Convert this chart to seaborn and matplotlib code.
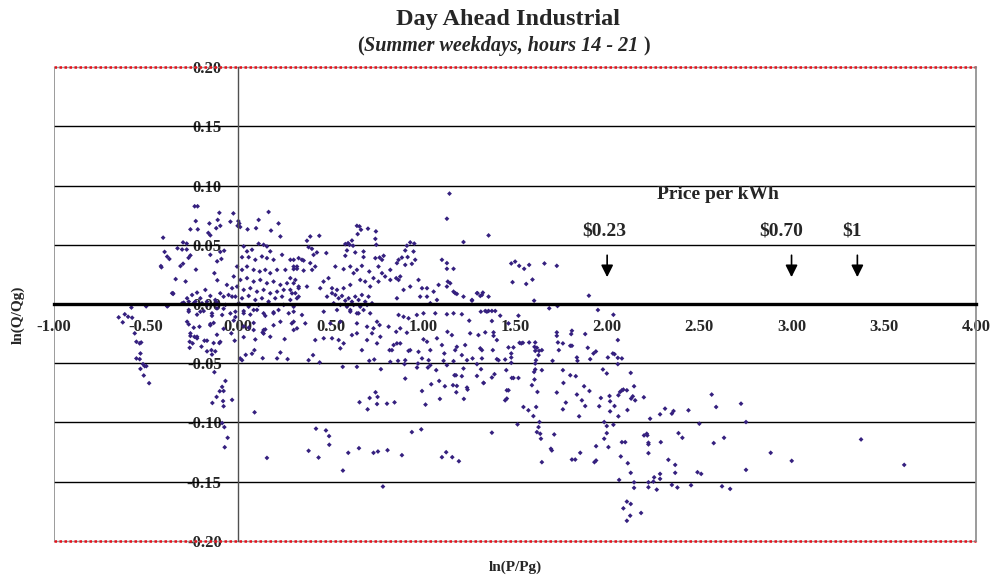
import pandas as pd
import seaborn as sns
import matplotlib.pyplot as plt

# (ln(P/Pg), ln(Q/Qg)) pairs, grouped by region
upper_left = [
    (-0.237, 0.0825), (-0.221, 0.0825), (-0.103, 0.077), (-0.027, 0.0765), (0.164, 0.0777),
    (-0.231, 0.070), (-0.112, 0.071), (-0.043, 0.0695), (0.000, 0.070), (0.005, 0.068),
    (-0.004, 0.066), (0.010, 0.065), (0.110, 0.071), (0.218, 0.068), (-0.157, 0.068),
    (-0.260, 0.063), (-0.220, 0.063), (-0.120, 0.064), (-0.098, 0.066), (0.050, 0.063),
    (0.096, 0.064), (0.177, 0.062), (0.228, 0.057), (-0.408, 0.056), (-0.163, 0.060),
    (-0.152, 0.058), (-0.300, 0.052), (-0.280, 0.051), (-0.330, 0.047), (-0.305, 0.046),
    (-0.280, 0.046), (-0.077, 0.045), (-0.098, 0.044), (-0.400, 0.044), (-0.386, 0.040),
    (-0.374, 0.038), (-0.260, 0.041), (-0.270, 0.039), (-0.152, 0.0415), (-0.115, 0.036),
    (-0.092, 0.038), (-0.420, 0.032), (-0.417, 0.031), (-0.314, 0.032), (-0.300, 0.034),
    (-0.230, 0.029), (-0.130, 0.026), (-0.340, 0.021), (-0.286, 0.019), (-0.114, 0.020),
    (-0.354, 0.009), (-0.580, -0.003), (-0.500, -0.002), (-0.386, -0.002),
]

near_zero_right = [
    (0.029, 0.0486), (0.047, 0.0444), (0.074, 0.0458), (0.110, 0.0509), (0.137, 0.0500),
    (0.155, 0.0486), (0.173, 0.0444), (0.020, 0.0395), (0.056, 0.0395), (0.092, 0.0373),
    (0.128, 0.0401), (0.155, 0.0387), (0.191, 0.0373), (0.237, 0.0415), (0.300, 0.0373),
    (0.318, 0.0316), (-0.007, 0.0316), (0.020, 0.0288), (0.047, 0.0316), (0.083, 0.0288),
    (0.116, 0.0274), (0.146, 0.0288), (0.173, 0.0260), (0.210, 0.0288), (0.255, 0.0288),
    (0.300, 0.0294), (-0.025, 0.0232), (0.011, 0.0203), (0.047, 0.0218), (0.083, 0.0189),
    (0.119, 0.0203), (0.155, 0.0175), (0.191, 0.0189), (0.228, 0.0161), (0.264, 0.0175),
    (0.309, 0.0203), (-0.062, 0.0161), (-0.034, 0.0133), (-0.007, 0.0147), (0.029, 0.0119),
    (0.065, 0.0133), (0.101, 0.0104), (0.137, 0.0119), (0.173, 0.0090), (0.210, 0.0104),
    (0.246, 0.0119), (0.291, 0.0090), (0.327, 0.0133), (-0.053, 0.0076), (-0.016, 0.0062),
    (0.020, 0.0048), (0.056, 0.0068), (0.092, 0.0034), (0.128, 0.0048), (0.164, 0.0020),
    (0.200, 0.0048), (0.237, 0.0062), (0.282, 0.0034), (0.318, 0.0048), (-0.278, 0.0048),
    (-0.251, 0.0076), (-0.224, 0.0096), (-0.206, 0.0048), (-0.179, 0.0119), (-0.152, 0.0068),
    (-0.125, 0.0034), (-0.098, 0.0090), (-0.080, 0.0062), (-0.296, 0.0011), (-0.269, 0.0020),
    (-0.233, 0.0020), (-0.197, 0.0006), (-0.170, 0.0020), (-0.116, 0.0011),
]

zero_band_left = [
    (-0.359, 0.0091), (-0.305, 0.0006), (-0.269, -0.0065), (-0.242, 0.0006), (-0.206, -0.0065),
    (-0.170, -0.0008), (-0.143, -0.0079), (-0.116, -0.0037), (-0.088, -0.0093), (-0.070, -0.0008),
    (-0.034, 0.0062), (-0.016, -0.0065), (0.002, 0.0006), (0.029, -0.0079), (0.056, -0.0023),
    (0.083, -0.0051), (0.110, -0.0008), (0.137, -0.0079), (0.164, 0.0006), (0.191, -0.0079),
    (0.218, -0.0051), (0.246, -0.0008), (0.273, -0.0079), (0.300, -0.0023), (0.327, 0.0062),
    (-0.383, -0.0017), (-0.354, 0.0085),
    (-0.269, -0.005), (-0.224, -0.009), (-0.188, -0.006), (-0.143, -0.010), (-0.080, -0.004),
    (-0.043, -0.008), (-0.016, -0.011), (0.029, -0.006), (0.065, -0.009), (0.101, -0.005),
    (0.146, -0.010), (0.191, -0.007),
    (-0.278, -0.015), (-0.242, -0.020), (-0.152, -0.017), (-0.080, -0.021), (-0.025, -0.014),
    (0.029, -0.019), (0.083, -0.016), (0.137, -0.022), (0.191, -0.018), (0.228, -0.015),
    (-0.260, -0.027), (-0.224, -0.029), (-0.116, -0.026), (0.029, -0.028), (0.137, -0.025),
]

lower_left = [
    (-0.649, -0.0113), (-0.627, -0.0155), (-0.616, -0.0087), (-0.598, -0.0108), (-0.576, -0.0116),
    (-0.562, -0.0248), (-0.553, -0.0319), (-0.535, -0.0333), (-0.527, -0.0325), (-0.531, -0.0418),
    (-0.553, -0.046), (-0.535, -0.0466), (-0.517, -0.0508), (-0.508, -0.0525), (-0.531, -0.0548),
    (-0.499, -0.0525), (-0.513, -0.0604), (-0.484, -0.0669),
    (-0.269, -0.0172), (-0.211, -0.0192), (-0.260, -0.0248), (-0.238, -0.0277), (-0.224, -0.0277),
    (-0.264, -0.0319), (-0.248, -0.0333), (-0.264, -0.037), (-0.184, -0.031), (-0.170, -0.031),
    (-0.200, -0.036), (-0.170, -0.040), (-0.146, -0.039), (-0.125, -0.040), (-0.134, -0.033),
    (-0.103, -0.033), (-0.098, -0.032), (-0.152, -0.018), (-0.134, -0.016), (-0.143, -0.0427),
    (-0.130, -0.0576), (-0.070, -0.065), (-0.088, -0.070), (-0.080, -0.0735), (-0.101, -0.0737),
    (-0.118, -0.0785), (-0.034, -0.081), (-0.141, -0.0836), (-0.083, -0.082), (-0.080, -0.0864),
    (-0.088, -0.1006), (-0.076, -0.104), (-0.058, -0.113), (-0.074, -0.121),
    (0.088, -0.0915), (0.155, -0.130),
    (-0.038, -0.0248), (-0.020, -0.031), (0.010, -0.046), (0.020, -0.0475), (0.040, -0.043),
    (0.056, -0.020), (0.083, -0.022), (0.092, -0.030), (0.074, -0.042), (0.087, -0.039),
    (0.132, -0.024), (0.146, -0.0215), (0.173, -0.0277), (0.132, -0.0458), (0.210, -0.046),
    (0.228, -0.041), (0.251, -0.0297), (0.267, -0.0466), (0.300, -0.022), (0.290, -0.0164),
]

middle_upper = [
    (1.145, 0.0932), (1.131, 0.072), (1.221, 0.0523), (1.357, 0.0579), (0.643, 0.066),
    (0.657, 0.0655), (0.665, 0.0627), (0.703, 0.0636), (0.746, 0.0613), (0.647, 0.059),
    (0.390, 0.057), (0.439, 0.0576), (0.372, 0.0534), (0.381, 0.048), (0.399, 0.0466),
    (0.580, 0.0506), (0.595, 0.0514), (0.616, 0.0536), (0.622, 0.0492), (0.603, 0.050),
    (0.743, 0.055), (0.748, 0.050), (0.679, 0.0443), (0.634, 0.0435), (0.589, 0.0452),
    (0.580, 0.0407), (0.914, 0.0492), (0.932, 0.052), (0.954, 0.051), (0.905, 0.0452),
    (0.950, 0.0443), (0.282, 0.0373), (0.327, 0.0387), (0.345, 0.0373), (0.354, 0.0367),
    (0.408, 0.0415), (0.426, 0.0435), (0.477, 0.043), (0.300, 0.0316), (0.318, 0.0297),
    (0.354, 0.0282), (0.417, 0.0316), (0.390, 0.0345), (0.400, 0.0288),
    (0.526, 0.0316), (0.571, 0.0294), (0.607, 0.0316), (0.625, 0.026), (0.643, 0.0288),
    (0.670, 0.0322), (0.679, 0.0396), (0.710, 0.0274), (0.743, 0.0387), (0.766, 0.0392),
    (0.779, 0.0373), (0.788, 0.0407), (0.760, 0.0316), (0.779, 0.026), (0.824, 0.0288),
    (0.860, 0.0345), (0.869, 0.0373), (0.887, 0.0392), (0.905, 0.033), (0.918, 0.0396),
    (0.941, 0.0339), (0.959, 0.0373), (0.856, 0.0218), (0.869, 0.0203), (0.878, 0.0232),
    (0.282, 0.0218), (0.300, 0.0175), (0.327, 0.0147), (0.372, 0.0147), (0.282, 0.0119),
    (0.309, 0.0091), (0.444, 0.0133), (0.489, 0.0218), (0.462, 0.0189), (0.508, 0.0133),
    (0.535, 0.0119), (0.571, 0.0133), (0.607, 0.0161), (0.661, 0.0203), (0.688, 0.0189),
    (0.715, 0.0147), (0.733, 0.0218), (0.760, 0.0189), (0.796, 0.0232), (0.824, 0.0203),
    (0.860, 0.0048), (0.896, 0.0119), (0.932, 0.0147), (0.977, 0.0203), (0.996, 0.0133),
    (1.023, 0.0133), (1.059, 0.0104), (1.086, 0.0161), (1.131, 0.0147), (1.167, 0.0104),
    (1.221, 0.0062), (1.267, 0.0034), (1.294, 0.0091), (1.321, 0.0076), (1.357, 0.0062),
    (1.023, 0.0062), (0.986, 0.0062), (1.041, 0.0006), (1.077, 0.0034),
    (0.481, 0.0062), (0.508, 0.0091), (0.526, 0.0076), (0.544, 0.0048), (0.562, 0.0068),
    (0.580, 0.0028), (0.598, 0.0048), (0.616, 0.0019), (0.634, 0.0062), (0.652, 0.0034),
    (0.670, 0.0076), (0.688, 0.0019), (0.706, 0.0062), (0.725, 0.0006), (0.517, 0.0006),
    (0.553, -0.0008), (0.589, -0.0023), (0.625, -0.0008), (0.661, -0.0023), (0.698, -0.0008),
    (0.535, -0.0051), (0.607, -0.0065), (0.643, -0.0079), (0.679, -0.0051), (0.715, -0.0079),
    (1.104, 0.0373), (1.131, 0.0345), (1.131, 0.0297), (1.167, 0.0297), (1.136, 0.0189),
    (1.149, 0.0175), (1.176, 0.0091), (1.185, 0.0085), (1.267, 0.0028), (1.297, 0.0091),
]

middle_lower = [
    (0.300, -0.0065), (0.345, -0.0093), (0.363, -0.0164), (0.300, -0.015), (0.318, -0.0206),
    (0.417, -0.0305), (0.463, -0.029), (0.508, -0.029), (0.544, -0.0305), (0.553, -0.0375),
    (0.571, -0.0333), (0.616, -0.0263), (0.643, -0.0248), (0.670, -0.039), (0.698, -0.0305),
    (0.725, -0.0248), (0.752, -0.0333), (0.770, -0.0277), (0.820, -0.039), (0.833, -0.039),
    (0.842, -0.0347), (0.860, -0.0333), (0.878, -0.0333), (0.914, -0.0243), (0.923, -0.0396),
    (0.932, -0.039), (0.977, -0.0404), (1.004, -0.0299), (1.023, -0.0319), (1.041, -0.039),
    (1.077, -0.029), (1.104, -0.0347), (1.117, -0.0418), (1.134, -0.0235), (1.158, -0.0263),
    (1.176, -0.039), (1.185, -0.0362), (1.212, -0.0432), (1.230, -0.0347), (1.257, -0.0248),
    (1.302, -0.0263), (1.312, -0.0375), (1.321, -0.039), (0.968, -0.0093), (1.004, -0.0079),
    (1.068, -0.0079), (1.131, -0.0087), (1.167, -0.0079), (1.212, -0.0087), (1.252, -0.0141),
    (1.315, -0.0065), (1.348, -0.0065), (0.869, -0.0093), (0.896, -0.0108), (0.923, -0.0121),
    (0.815, -0.0192), (0.856, -0.0235), (0.878, -0.0206), (0.752, -0.015), (0.766, -0.0178),
    (0.553, -0.015), (0.499, -0.0164), (0.463, -0.0065), (0.643, -0.0164), (0.698, -0.0192),
    (0.733, -0.0206), (0.652, -0.0079), (0.607, -0.0051),
    (0.381, -0.0475), (0.405, -0.0432), (0.441, -0.0494), (0.566, -0.0531), (0.643, -0.0531),
    (0.710, -0.048), (0.737, -0.0469), (0.773, -0.0551), (0.824, -0.0489), (0.866, -0.048),
    (0.901, -0.0508), (0.905, -0.0475), (0.969, -0.0537), (0.974, -0.0503), (0.996, -0.046),
    (1.032, -0.0475), (1.041, -0.0517), (1.113, -0.048), (1.131, -0.0517), (1.167, -0.0483),
    (1.221, -0.0545), (1.240, -0.0475), (1.270, -0.046), (1.294, -0.0508), (1.316, -0.0551),
    (1.321, -0.046),
    (0.657, -0.083), (0.712, -0.0794), (0.755, -0.0785), (0.744, -0.0746), (0.701, -0.089),
    (0.752, -0.0845), (0.806, -0.0842), (0.847, -0.0831), (0.905, -0.063), (0.996, -0.0735),
    (1.015, -0.085), (1.093, -0.0802), (1.223, -0.0802), (1.182, -0.0746), (1.240, -0.0706),
    (1.243, -0.0723), (1.089, -0.065), (1.120, -0.0695), (1.164, -0.0686), (1.185, -0.0692),
    (1.046, -0.0678), (1.330, -0.0667), (1.294, -0.0608), (1.212, -0.061), (1.180, -0.0602),
    (1.172, -0.0602), (1.028, -0.0537), (1.073, -0.0559),
    (0.421, -0.1053), (0.475, -0.1068), (0.492, -0.1116), (0.493, -0.1189), (0.381, -0.124),
    (0.435, -0.1297), (0.567, -0.1407), (0.596, -0.1257), (0.654, -0.1218), (0.733, -0.1257),
    (0.757, -0.1246), (0.809, -0.1235), (0.887, -0.1277), (0.941, -0.1082), (0.992, -0.1059),
    (1.104, -0.1294), (1.127, -0.1252), (1.160, -0.1294), (1.196, -0.1328), (0.784, -0.1542),
]

right_upper = [
    (1.480, 0.0342), (1.501, 0.0358), (1.523, 0.0322), (1.550, 0.0297), (1.577, 0.033),
    (1.660, 0.0342), (1.727, 0.0322), (1.487, 0.0184), (1.561, 0.0169), (1.595, 0.0206),
    (1.326, 0.0096), (1.312, 0.0068), (1.604, 0.0028), (1.901, 0.007), (1.686, -0.0037),
    (1.731, -0.0017), (1.950, -0.0051), (2.034, -0.0091), (1.339, -0.0059), (1.357, -0.0059),
    (1.375, -0.0059), (1.393, -0.0059), (1.420, -0.0099), (1.519, -0.0099), (1.375, -0.0144),
    (1.465, -0.0164),
    (1.384, -0.024), (1.384, -0.0269), (1.339, -0.024), (1.402, -0.0305), (1.447, -0.0469),
    (1.380, -0.039), (1.402, -0.0466), (1.411, -0.0475), (1.480, -0.0418), (1.480, -0.0452),
    (1.480, -0.0497), (1.492, -0.0367), (1.465, -0.0367), (1.525, -0.0328), (1.534, -0.0333),
    (1.543, -0.0328), (1.577, -0.0325), (1.610, -0.0325), (1.606, -0.0362), (1.619, -0.037),
    (1.610, -0.0396), (1.631, -0.0396), (1.646, -0.039), (1.628, -0.0432), (1.610, -0.0503),
    (1.614, -0.0475), (1.704, -0.048), (1.727, -0.024), (1.727, -0.0269), (1.733, -0.0325),
    (1.760, -0.0333), (1.738, -0.039), (1.809, -0.0226), (1.805, -0.0254), (1.809, -0.0353),
    (1.800, -0.0353), (1.881, -0.0254), (1.836, -0.0452), (1.839, -0.048), (1.895, -0.037),
    (1.908, -0.0466), (1.926, -0.0418), (1.939, -0.0401), (2.004, -0.0452), (2.031, -0.0418),
    (2.040, -0.0424), (2.058, -0.0305), (2.058, -0.0455), (2.080, -0.046), (2.058, -0.0508),
]

right_lower = [
    (1.330, -0.0667), (1.375, -0.0621), (1.389, -0.0593), (1.453, -0.0559), (1.483, -0.0625),
    (1.492, -0.0625), (1.519, -0.0625), (1.456, -0.0729), (1.465, -0.0729), (1.447, -0.0814),
    (1.456, -0.0799), (1.546, -0.087), (1.573, -0.0898), (1.600, -0.0947), (1.615, -0.087),
    (1.592, -0.0686), (1.606, -0.0638), (1.622, -0.0743), (1.646, -0.0559), (1.610, -0.0553),
    (1.604, -0.0574), (1.633, -0.0997), (1.628, -0.104), (1.619, -0.1082), (1.637, -0.1096),
    (1.641, -0.1138), (1.695, -0.1223), (1.700, -0.1237), (1.713, -0.1102), (1.646, -0.1336),
    (1.375, -0.1087), (1.514, -0.1017), (1.763, -0.0667), (1.760, -0.0559), (1.800, -0.0602),
    (1.830, -0.061), (1.727, -0.0748), (1.776, -0.0833), (1.760, -0.089), (1.836, -0.0765),
    (1.863, -0.0814), (1.881, -0.0862), (1.848, -0.0949), (1.875, -0.0695), (1.904, -0.0735),
    (1.966, -0.0794), (1.977, -0.0553), (1.998, -0.0587), (1.957, -0.0864), (2.016, -0.0822),
    (2.016, -0.0907), (2.040, -0.0862), (2.013, -0.0777), (2.061, -0.0771), (2.070, -0.0743),
    (2.080, -0.0729), (2.088, -0.0723), (2.107, -0.0729), (2.146, -0.0695), (2.139, -0.078),
    (2.152, -0.0814), (2.130, -0.0799), (2.199, -0.0788), (2.110, -0.0896), (2.061, -0.0949),
    (2.128, -0.0582), (1.984, -0.0997), (1.998, -0.1031), (2.034, -0.102), (1.998, -0.1091),
    (1.984, -0.1138), (1.940, -0.1201), (2.007, -0.1209), (1.854, -0.1257), (1.809, -0.1314),
    (1.827, -0.1314), (1.940, -0.1322), (1.931, -0.1336), (2.080, -0.1167), (2.098, -0.1167),
    (2.074, -0.1288), (2.112, -0.1345), (2.128, -0.1426), (2.065, -0.1486), (2.146, -0.1506),
    (2.146, -0.1553), (2.224, -0.1548), (2.269, -0.1568), (2.255, -0.1464), (2.287, -0.1435),
    (2.287, -0.1477), (2.224, -0.1506), (2.224, -0.126), (2.224, -0.1186), (2.224, -0.1172),
    (2.215, -0.1096), (2.291, -0.1167), (2.233, -0.0969), (2.287, -0.0932), (2.314, -0.0884),
    (2.351, -0.0926), (2.360, -0.0904), (2.387, -0.1091), (2.332, -0.1316), (2.369, -0.1359),
    (2.369, -0.1426), (2.351, -0.1528), (2.107, -0.1669), (2.128, -0.1689), (2.088, -0.1726),
    (2.125, -0.1788), (2.184, -0.1765), (2.107, -0.1831), (2.200, -0.111), (2.218, -0.111),
    (2.251, -0.150), (2.381, -0.155),
    (2.567, -0.0765), (2.591, -0.087), (2.726, -0.0842), (2.753, -0.0997), (2.500, -0.1011),
    (2.441, -0.0898), (2.408, -0.113), (2.578, -0.1175), (2.634, -0.113), (2.887, -0.1257),
    (3.001, -0.1325), (3.377, -0.1144), (3.611, -0.1359), (2.753, -0.1401), (2.490, -0.1421),
    (2.510, -0.1435), (2.455, -0.1531), (2.623, -0.154), (2.667, -0.1562),
]

x_ticks = [-1.0, -0.5, 0.0, 0.5, 1.0, 1.5, 2.0, 2.5, 3.0, 3.5, 4.0]
x_tick_labels = ['-1.00', '-0.50', '0.00', '0.50', '1.00', '1.50', '2.00', '2.50', '3.00', '3.50', '4.00']
y_ticks = [-0.20, -0.15, -0.10, -0.05, 0.00, 0.05, 0.10, 0.15, 0.20]
y_tick_labels = ['-0.20', '-0.15', '-0.10', '-0.05', '0.00', '0.05', '0.10', '0.15', '0.20']
grid_levels = [-0.15, -0.10, -0.05, 0.05, 0.10, 0.15]

price_labels = ['\\$0.23', '\\$0.70', '\\$1']
price_label_x = [1.986, 2.944, 3.326]
price_arrow_x = [2.0, 3.0, 3.357]

groups = [upper_left, near_zero_right, zero_band_left, lower_left,
          middle_upper, middle_lower, right_upper, right_lower]
df = pd.DataFrame([p for g in groups for p in g], columns=['ln_p', 'ln_q'])

sns.set_style('white')
plt.rcParams['font.family'] = ['Liberation Serif', 'DejaVu Serif']
plt.rcParams['font.weight'] = 'bold'

fig = plt.figure(figsize=(9.92, 5.75), dpi=100)
ax = fig.add_axes([0.0544, 0.0595, 0.9294, 0.8237])

for lvl in grid_levels:
    ax.axhline(lvl, color='black', lw=1.0, zorder=1)
for edge in (-0.2, 0.2):
    ax.axhline(edge, color='#9a9a9a', lw=1.0, zorder=1, clip_on=False)
    ax.axhline(edge, color='#e8101a', lw=1.8, ls=(0, (1, 1)), zorder=1, clip_on=False)
ax.axvline(-1.0, color='#8a8a8a', lw=1.2, zorder=1)

sns.scatterplot(data=df, x='ln_p', y='ln_q', marker='D', s=6, color='#35207f',
                edgecolor='none', linewidth=0, legend=False, ax=ax, zorder=2)

ax.set_xlim(-1, 4)
ax.set_ylim(-0.2, 0.2)

ax.spines['left'].set_position(('data', 0))
ax.spines['left'].set_color('#505050')
ax.spines['left'].set_linewidth(1.0)
ax.spines['bottom'].set_position(('data', 0))
ax.spines['bottom'].set_color('black')
ax.spines['bottom'].set_linewidth(2.4)
ax.spines['bottom'].set_zorder(3)
ax.spines['top'].set_visible(False)
ax.spines['right'].set_color('#8a8a8a')
ax.spines['right'].set_linewidth(1.2)

ax.set_xticks(x_ticks)
ax.set_xticklabels(x_tick_labels)
ax.set_yticks(y_ticks)
ax.set_yticklabels(y_tick_labels)
ax.tick_params(axis='x', direction='out', length=4, width=1, pad=7, labelsize=12)
ax.tick_params(axis='y', direction='out', length=5, width=1, pad=7, labelsize=12)
ax.set_xlabel('')
ax.set_ylabel('')

fig.text(508 / 992, 1 - 19 / 575, 'Day Ahead Industrial', ha='center', va='center', fontsize=17.5)
sub = fig.text(504 / 992, 1 - 46 / 575, 'Summer weekdays, hours 14 - 21 ', ha='center', va='center',
               fontsize=14.5, style='italic')
ax.annotate('(', xy=(0, 0), xycoords=sub, ha='right', va='bottom', fontsize=14.5, annotation_clip=False)
ax.annotate(')', xy=(1, 0), xycoords=sub, ha='left', va='bottom', fontsize=14.5, annotation_clip=False)

fig.text(515 / 992, 1 - 567 / 575, 'ln(P/Pg)', ha='center', va='center', fontsize=11)
fig.text(18 / 992, 1 - 315 / 575, 'ln(Q/Qg)', ha='center', va='center', fontsize=11, rotation=90)

ax.text(2.60, 0.0924, 'Price per kWh', ha='center', va='center', fontsize=14)
for lab, lx, axx in zip(price_labels, price_label_x, price_arrow_x):
    ax.text(lx, 0.0613, lab, ha='center', va='center', fontsize=14)
    ax.annotate('', xy=(axx, 0.0203), xytext=(axx, 0.0435),
                arrowprops=dict(arrowstyle='-|>', color='black', lw=1.2, mutation_scale=18))

fig.savefig('out.png', dpi=100)
